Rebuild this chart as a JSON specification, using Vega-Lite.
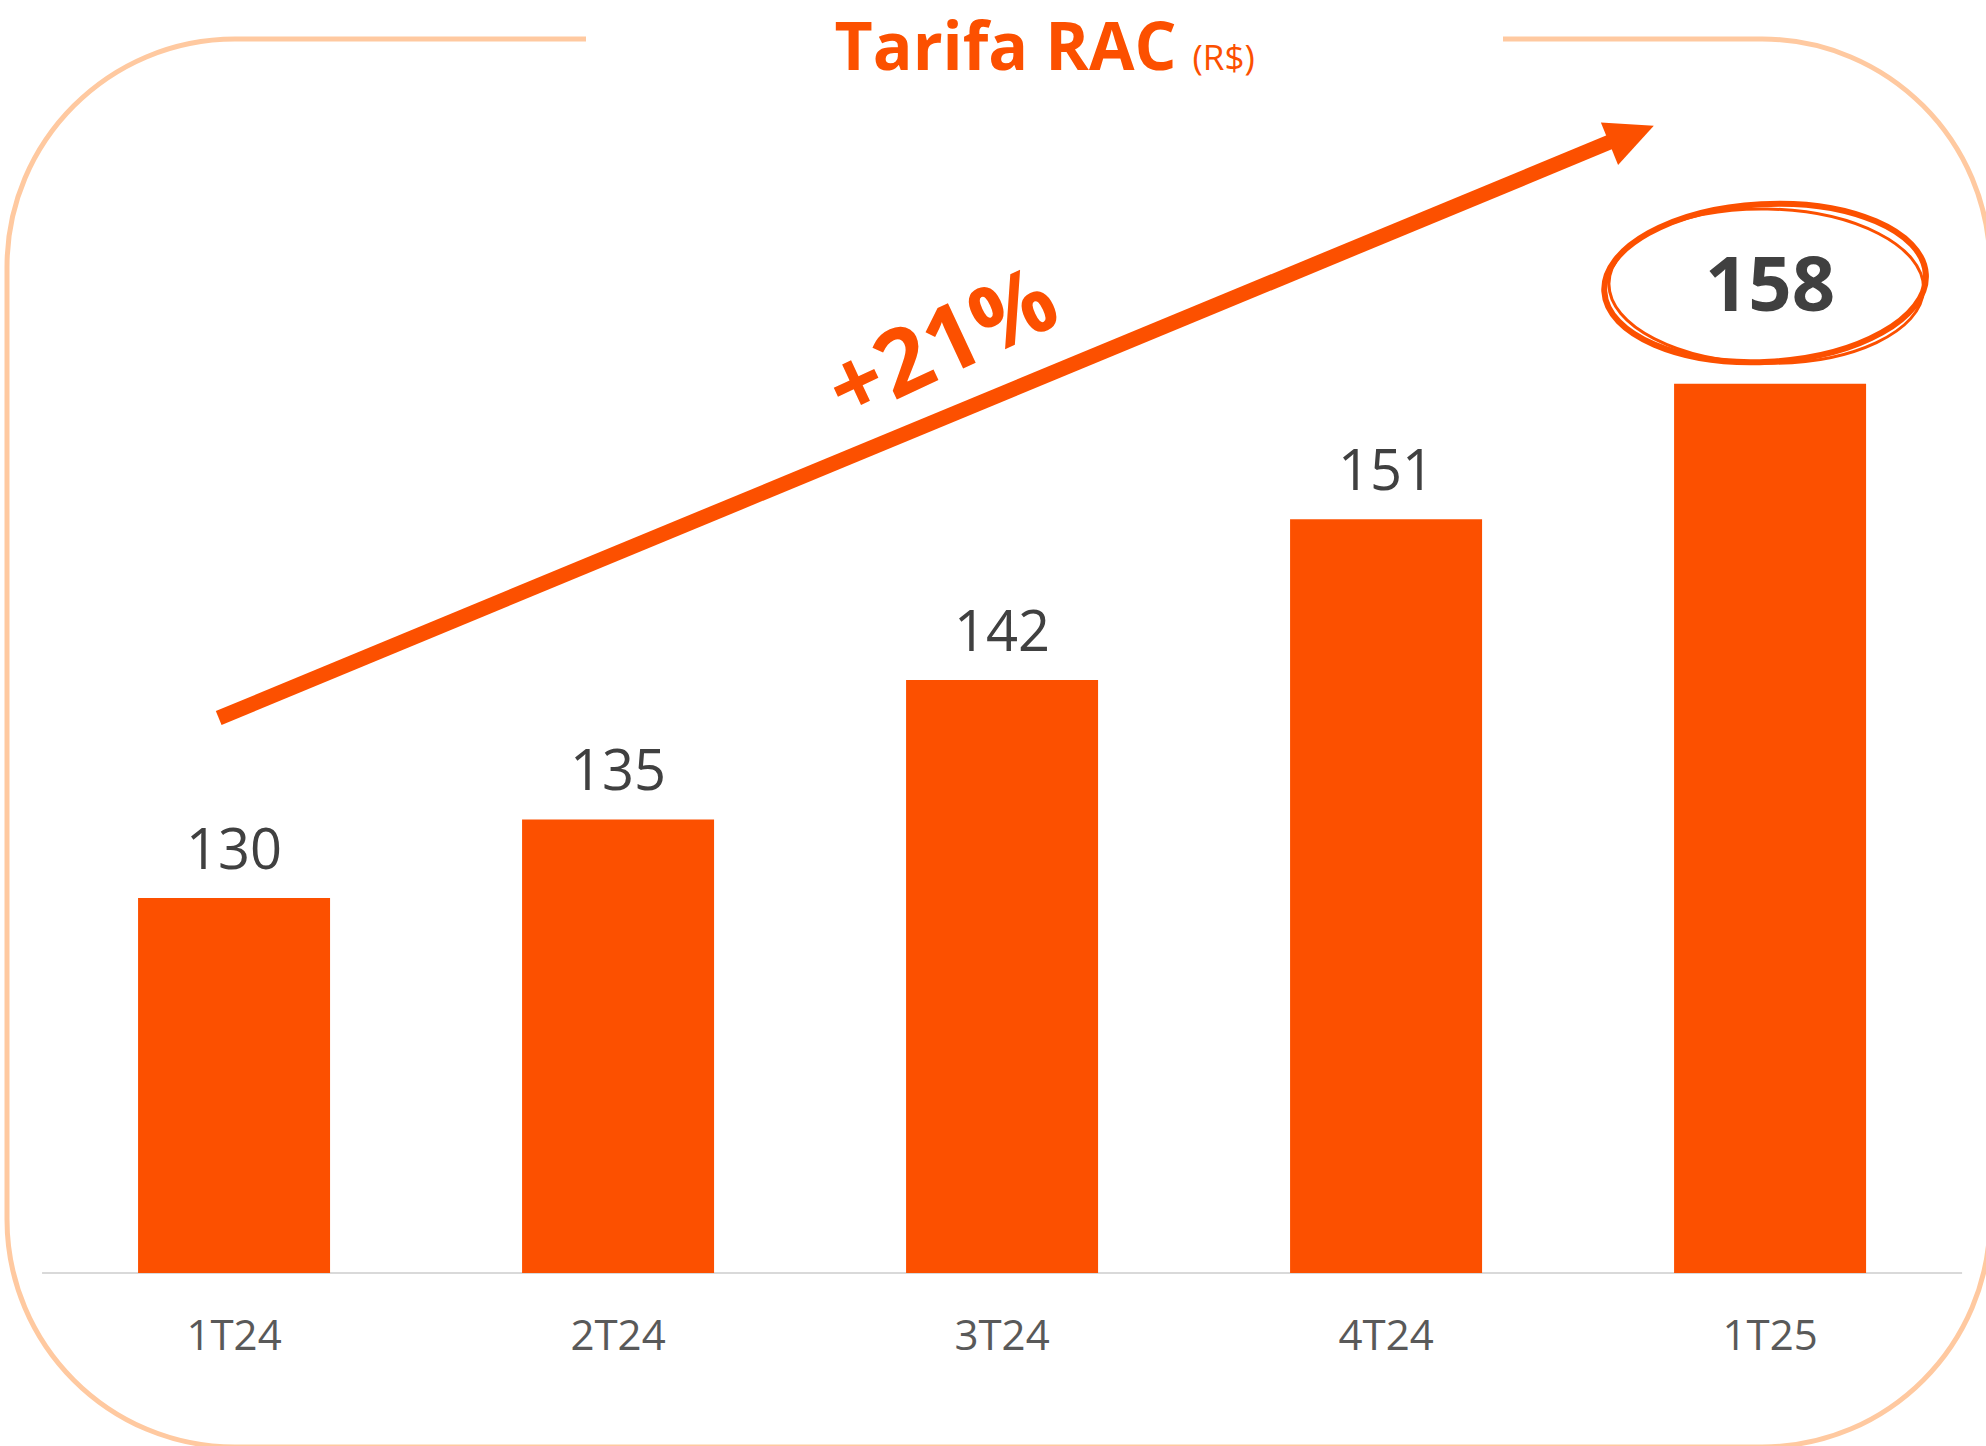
{
  "$schema": "https://vega.github.io/schema/vega-lite/v6.json",
  "width": 1983,
  "height": 1408,
  "autosize": {"type": "none"},
  "padding": {"left": 7, "top": 39, "right": 0, "bottom": 0},
  "background": "white",
  "config": {
    "view": {"stroke": "#FFC9A0", "strokeWidth": 5, "cornerRadius": 228},
    "font": "Open Sans"
  },
  "data": {
    "values": [
      {"trimestre": "1T24", "tarifa": 130.29},
      {"trimestre": "2T24", "tarifa": 134.54},
      {"trimestre": "3T24", "tarifa": 142.08},
      {"trimestre": "4T24", "tarifa": 150.78},
      {"trimestre": "1T25", "tarifa": 158.12}
    ]
  },
  "layer": [
    {
      "data": {"values": [{}]},
      "mark": {"type": "rect", "fill": "white", "stroke": null},
      "encoding": {
        "x": {"datum": "2T24", "type": "nominal", "bandPosition": 0.333, "axis": null},
        "x2": {"datum": "4T24", "bandPosition": 1.109},
        "y": {"datum": 177.1, "type": "quantitative", "axis": null},
        "y2": {"datum": 176.45}
      }
    },
    {
      "data": {"values": [{}]},
      "mark": {"type": "rule", "color": "#D9D9D9", "strokeWidth": 2},
      "encoding": {
        "x": {"datum": "1T24", "type": "nominal", "bandPosition": -0.5, "axis": null},
        "x2": {"datum": "1T25", "bandPosition": 1.5},
        "y": {"datum": 110, "type": "quantitative", "axis": null}
      }
    },
    {
      "mark": {"type": "bar", "color": "#FC5000"},
      "encoding": {
        "x": {
          "field": "trimestre",
          "type": "nominal",
          "sort": null,
          "scale": {"domain": ["1T24", "2T24", "3T24", "4T24", "1T25"], "paddingInner": 0.5, "paddingOuter": 0.332, "align": 0.514},
          "axis": null
        },
        "y": {
          "field": "tarifa",
          "type": "quantitative",
          "scale": {"domain": [100.585, 176.77], "nice": false, "zero": false},
          "axis": null
        },
        "y2": {"datum": 110}
      }
    },
    {
      "mark": {"type": "text", "dy": 77, "baseline": "alphabetic", "align": "center", "fontSize": 42, "color": "#595959", "font": "Open Sans"},
      "encoding": {
        "x": {"field": "trimestre", "type": "nominal", "axis": null},
        "y": {"datum": 110, "type": "quantitative", "axis": null},
        "text": {"field": "trimestre", "type": "nominal"}
      }
    },
    {
      "transform": [{"filter": "datum.trimestre != '1T25'"}],
      "mark": {"type": "text", "dy": -29, "baseline": "alphabetic", "align": "center", "fontSize": 56, "color": "#404040", "font": "Open Sans"},
      "encoding": {
        "x": {"field": "trimestre", "type": "nominal", "axis": null},
        "y": {"field": "tarifa", "type": "quantitative", "axis": null},
        "text": {"field": "tarifa", "type": "quantitative", "format": ".0f"}
      }
    },
    {
      "transform": [{"filter": "datum.trimestre == '1T25'"}],
      "mark": {"type": "text", "dy": -73, "baseline": "alphabetic", "align": "center", "fontSize": 76, "fontWeight": "bold", "color": "#404040", "font": "Open Sans"},
      "encoding": {
        "x": {"field": "trimestre", "type": "nominal", "axis": null},
        "y": {"field": "tarifa", "type": "quantitative", "axis": null},
        "text": {"field": "tarifa", "type": "quantitative", "format": ".0f"}
      }
    },
    {
      "data": {"values": [{}]},
      "mark": {
        "type": "point",
        "shape": "M 1,0 C 1,0.2706 0.5523,0.49 0,0.49 C -0.5523,0.49 -1,0.2706 -1,0 C -1,-0.2706 -0.5523,-0.49 0,-0.49 C 0.5523,-0.49 1,-0.2706 1,0 Z",
        "size": 103684,
        "filled": false,
        "stroke": "#FC5000",
        "strokeWidth": 6,
        "opacity": 1,
        "angle": 357
      },
      "encoding": {
        "x": {"datum": "1T25", "type": "nominal", "bandPosition": 0.474, "axis": null},
        "y": {"datum": 163.57, "type": "quantitative", "axis": null}
      }
    },
    {
      "data": {"values": [{}]},
      "mark": {
        "type": "point",
        "shape": "M 1,0 C 1,0.2706 0.5523,0.49 0,0.49 C -0.5523,0.49 -1,0.2706 -1,0 C -1,-0.2706 -0.5523,-0.49 0,-0.49 C 0.5523,-0.49 1,-0.2706 1,0 Z",
        "size": 99000,
        "filled": false,
        "stroke": "#FC5000",
        "strokeWidth": 3,
        "opacity": 1,
        "angle": 1
      },
      "encoding": {
        "x": {"datum": "1T25", "type": "nominal", "bandPosition": 0.48, "axis": null},
        "y": {"datum": 163.4, "type": "quantitative", "axis": null}
      }
    },
    {
      "data": {"values": [{}]},
      "mark": {"type": "rule", "color": "#FC5000", "strokeWidth": 15, "strokeCap": "butt"},
      "encoding": {
        "x": {"datum": "1T24", "type": "nominal", "bandPosition": 0.42, "axis": null},
        "x2": {"datum": "4T24", "bandPosition": 1.667},
        "y": {"datum": 140.03, "type": "quantitative", "axis": null},
        "y2": {"datum": 171.2}
      }
    },
    {
      "data": {"values": [{}]},
      "mark": {
        "type": "point",
        "shape": "M 1,0 L -1,-0.96 L -1,0.96 Z",
        "size": 2285,
        "filled": true,
        "color": "#FC5000",
        "opacity": 1,
        "angle": 338
      },
      "encoding": {
        "x": {"datum": "4T24", "type": "nominal", "bandPosition": 1.779, "axis": null},
        "y": {"datum": 171.59, "type": "quantitative", "axis": null}
      }
    },
    {
      "data": {"values": [{}]},
      "mark": {"type": "text", "text": "+21%", "angle": 335, "fontSize": 92, "fontWeight": "bold", "color": "#FC5000", "align": "center", "baseline": "middle", "font": "Open Sans"},
      "encoding": {
        "x": {"datum": "3T24", "type": "nominal", "bandPosition": 0.193, "axis": null},
        "y": {"datum": 160.1, "type": "quantitative", "axis": null}
      }
    },
    {
      "data": {"values": [{}]},
      "mark": {"type": "text", "text": "Tarifa RAC", "fontSize": 66, "fontWeight": "bold", "color": "#FC5000", "align": "center", "baseline": "alphabetic", "font": "Open Sans"},
      "encoding": {
        "x": {"datum": "3T24", "type": "nominal", "bandPosition": 0.518, "axis": null},
        "y": {"datum": 175.07, "type": "quantitative", "axis": null}
      }
    },
    {
      "data": {"values": [{}]},
      "mark": {"type": "text", "text": "(R$)", "fontSize": 35, "color": "#FC5000", "align": "center", "baseline": "alphabetic", "font": "Open Sans"},
      "encoding": {
        "x": {"datum": "3T24", "type": "nominal", "bandPosition": 1.654, "axis": null},
        "y": {"datum": 175.07, "type": "quantitative", "axis": null}
      }
    }
  ]
}
